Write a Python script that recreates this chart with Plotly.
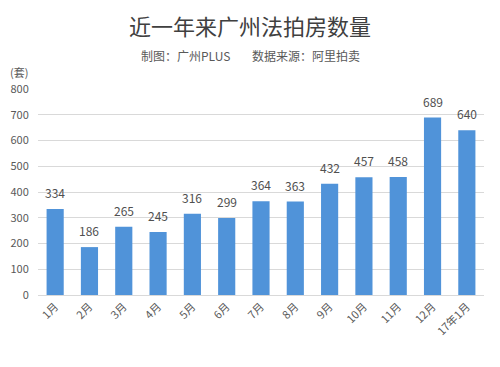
import plotly.graph_objects as go

months = ["1月", "2月", "3月", "4月", "5月", "6月", "7月", "8月", "9月", "10月", "11月", "12月", "17年1月"]
counts = [334, 186, 265, 245, 316, 299, 364, 363, 432, 457, 458, 689, 640]
y_ticks = [0, 100, 200, 300, 400, 500, 600, 700, 800]

# page body has an 8px margin; lay out in reference (window) pixels and compensate
OFF = 8
W, H = 500 - OFF, 367 - OFF
ml, mr, mt, mb = 38 - OFF, 16, 89 - OFF, 72
pw = W - ml - mr
ph = H - mt - mb


def px(x):
    return (x - OFF - ml) / pw


def py(y):
    return (H - mb - (y - OFF)) / ph


fig = go.Figure(go.Bar(
    x=months, y=counts,
    marker=dict(color="#5093d9", line=dict(width=0)),
    cliponaxis=False,
))

font = "Noto Sans CJK SC, sans-serif"
annotations = [
    dict(text="近一年来广州法拍房数量", x=px(250), y=py(25), xref="paper", yref="paper",
         yanchor="middle", showarrow=False, font=dict(size=22, color="#404040")),
    dict(text="制图：广州PLUS        数据来源：阿里拍卖", x=px(250), y=py(55),
         xref="paper", yref="paper", yanchor="middle",
         showarrow=False, font=dict(size=12, color="#595959")),
    dict(text="(套)", x=px(8), y=py(72), xref="paper", yref="paper", xanchor="left",
         yanchor="middle", showarrow=False, font=dict(size=11, color="#595959")),
]
# data labels above the bars
for m, v in zip(months, counts):
    annotations.append(dict(text=str(v), x=m, y=v, xref="x", yref="y", yanchor="bottom",
                            yshift=6, showarrow=False,
                            font=dict(size=12, color="#505050")))

fig.update_layout(
    width=W, height=H,
    margin=dict(l=ml, r=mr, t=mt, b=mb, autoexpand=False),
    paper_bgcolor="white", plot_bgcolor="white",
    font=dict(family=font, color="#595959"),
    bargap=0.5,
    showlegend=False,
    xaxis=dict(tickangle=-45, tickfont=dict(size=11, color="#595959"), automargin=False,
               showline=True, linecolor="#d9d9d9", ticks="", showgrid=False),
    yaxis=dict(range=[0, 800], tickvals=y_ticks, tickfont=dict(size=11, color="#595959"),
               automargin=False,
               showgrid=True, gridcolor="#d9d9d9", zeroline=False, ticks="outside", ticklen=6,
               tickcolor="rgba(0,0,0,0)"),
    annotations=annotations,
)

fig.write_html("out.html")
